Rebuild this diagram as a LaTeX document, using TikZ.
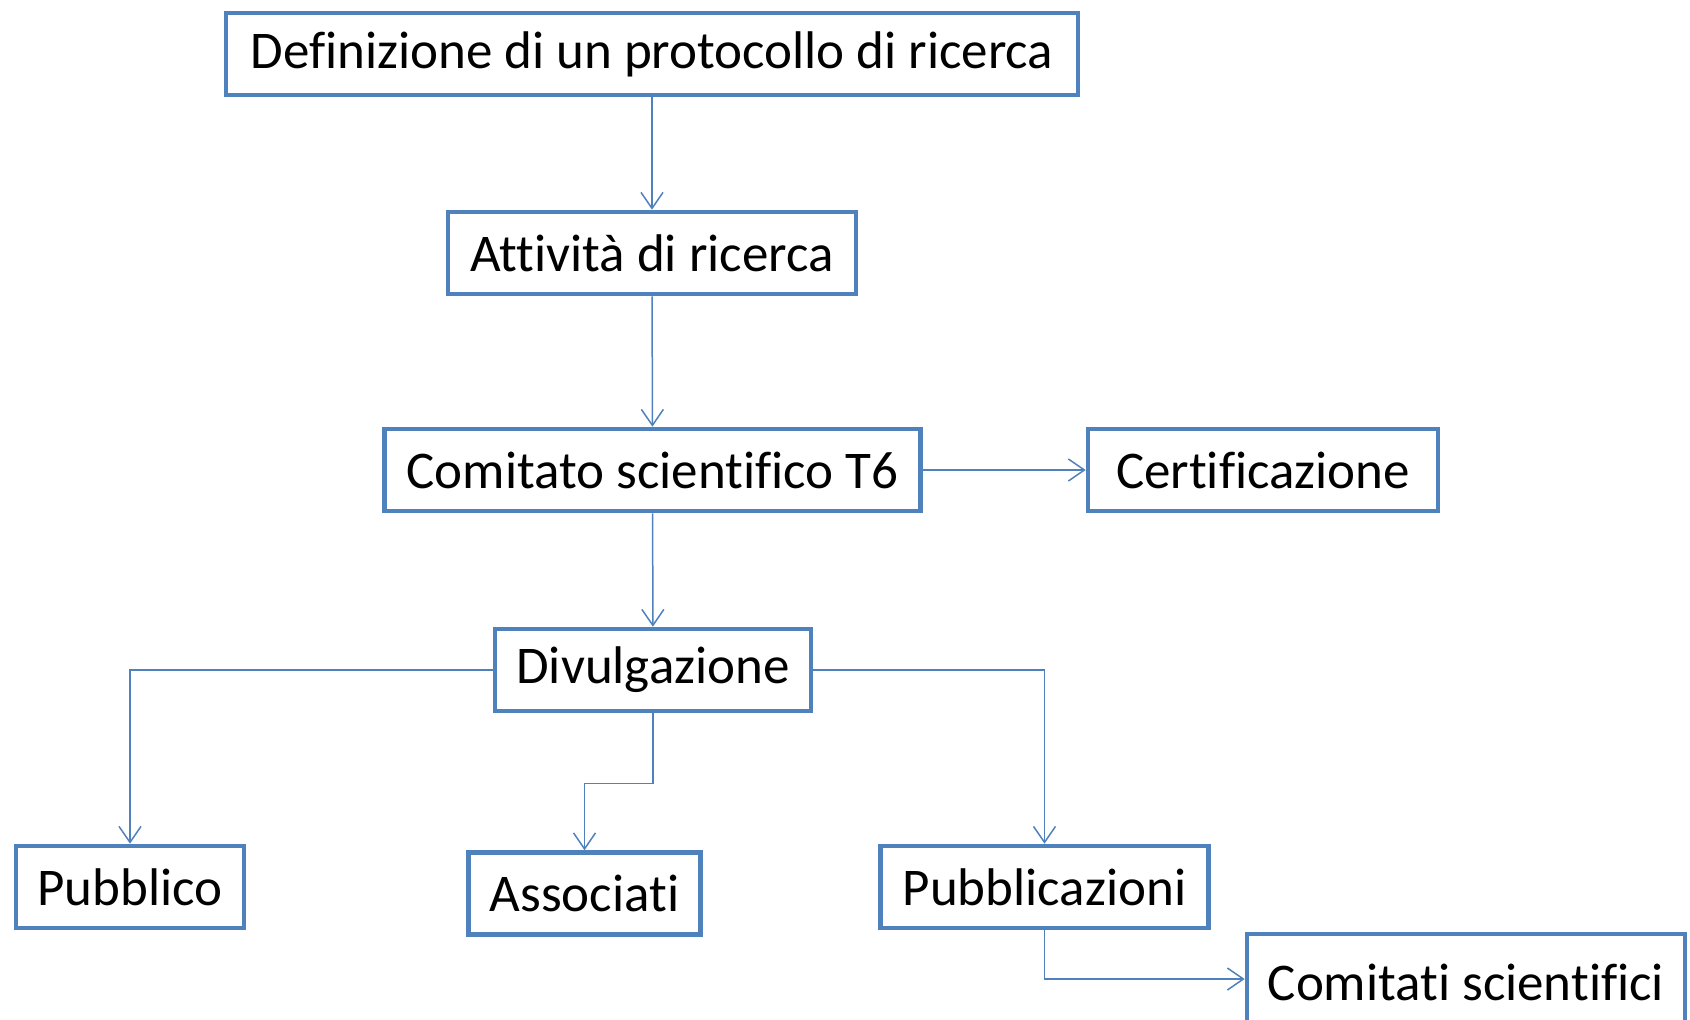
\documentclass[tikz,border=0pt]{standalone}
\usepackage{fontspec}
\setmainfont[Ligatures=NoCommon]{Carlito}
\usetikzlibrary{arrows.meta}
\definecolor{boxblue}{RGB}{79,129,189}
\tikzset{
  stepbox/.style={draw=boxblue, line width=2.3pt, rectangle, minimum height=41pt,
    inner sep=0pt, font=\fontsize{26.5}{32}\selectfont},
  link/.style={draw=boxblue, line width=0.75pt, -{Straight Barb[length=8pt,width=11pt]}}
}
\begin{document}
\begin{tikzpicture}[x=0.5pt,y=-0.5pt]
\useasboundingbox (0,0) rectangle (1690,1019);
\node[stepbox, minimum width=426pt] (def) at (652,54) {Definizione di un protocollo di ricerca};
\node[stepbox, minimum width=204pt] (att) at (652,253) {Attività di ricerca};
\node[stepbox, minimum width=268pt] (com) at (652.5,470) {Comitato scientifico T6};
\node[stepbox, minimum width=175pt] (cert) at (1263,470) {Certificazione};
\node[stepbox, minimum width=158pt] (div) at (653,670) {Divulgazione};
\node[stepbox, minimum width=114pt] (pub) at (130,887) {Pubblico};
\node[stepbox, minimum width=116pt] (ass) at (584.5,893.5) {Associati};
\node[stepbox, minimum width=164pt] (pbz) at (1044.5,887) {Pubblicazioni};
\node[stepbox, minimum width=219pt, minimum height=48pt] (cs) at (1466,982) {Comitati scientifici};
\draw[link] (def) -- (att);
\draw[link] (att) -- (com);
\draw[link] (com) -- (cert);
\draw[link] (com) -- (div);
\draw[link] (div.west) -| (pub.north);
\draw[link] (div.south) -- ++(0,70) -| (ass.north);
\draw[link] (div.east) -| (pbz.north);
\draw[link] (pbz.south) |- ([yshift=1.5pt]cs.west);
\end{tikzpicture}
\end{document}
